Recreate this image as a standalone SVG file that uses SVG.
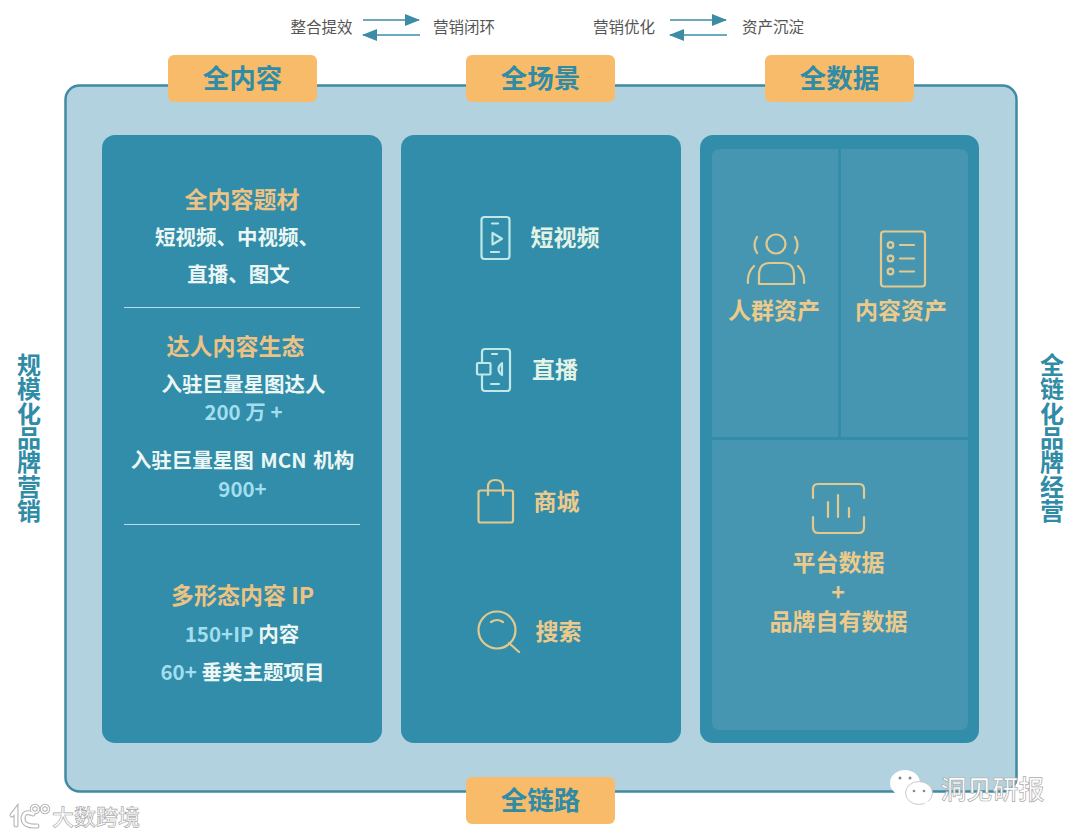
<svg xmlns="http://www.w3.org/2000/svg" width="1080" height="837" viewBox="0 0 1080 837">
<defs>
<marker id="arrow" markerUnits="userSpaceOnUse" markerWidth="15" markerHeight="12" refX="14" refY="6" orient="auto-start-reverse"><path d="M0 0L15 6L0 12Z" fill="#3d8ca6"/></marker>
</defs>
<style>
text{font-family:"Noto Sans CJK SC","Noto Sans",sans-serif;text-anchor:middle}
.tab{fill:#f7bb69}
.tabt{font-size:26.500px;font-weight:700;fill:#2f8ba6}
.panel{fill:#318da9}
.cell{fill:#4796b1}
.h{font-size:23px;font-weight:700;fill:#ecc384}
.w{font-size:20.500px;font-weight:700;fill:#ecf7f5}
.b{font-weight:700;fill:#a3deee}
.t{font-size:20.500px;font-weight:700;fill:#ecf7f5}
.g{font-size:23px;font-weight:700;fill:#ecca8b}
.w2{font-size:23px;font-weight:700;fill:#e2f3e6}
.side{font-size:24px;font-weight:700;fill:#2f8ba6;writing-mode:vertical-rl;text-anchor:start;letter-spacing:.3px}
.top{font-size:15.500px;fill:#555}
.wm{font-weight:500;fill:#fff;stroke:#aaa;stroke-width:.7}
.ic{fill:none;stroke-width:2.200;stroke-linecap:round;stroke-linejoin:round}
.icw{stroke:#bfe8e8}.icg{stroke:#e3c98e}
.rule{stroke:#bcdde5;stroke-width:1}
.flow{stroke:#3d8ca6;stroke-width:1.600;fill:none}
</style>
<g id="frame"><rect x="65.500" y="85.500" width="951" height="706" rx="14" fill="#b2d2df" stroke="#3f8ba3" stroke-width="2.500"/></g>

<g id="tab-content"><rect class="tab" x="168" y="55" width="149" height="47" rx="6"/><text class="tabt" x="242.500" y="88">全内容</text></g>
<g id="tab-scene"><rect class="tab" x="466" y="55" width="149" height="47" rx="6"/><text class="tabt" x="540.500" y="88">全场景</text></g>
<g id="tab-data"><rect class="tab" x="765" y="55" width="149" height="47" rx="6"/><text class="tabt" x="839.500" y="88">全数据</text></g>
<g id="tab-link"><rect class="tab" x="466" y="777" width="149" height="47" rx="6"/><text class="tabt" x="540.500" y="810">全链路</text></g>

<g id="top-left"><text class="top" x="321.500" y="33">整合提效</text><text class="top" x="464" y="33">营销闭环</text></g>
<g id="top-right"><text class="top" x="624" y="33">营销优化</text><text class="top" x="773" y="33">资产沉淀</text></g>
<g id="connectors">
<path class="flow" d="M363 20H419" marker-end="url(#arrow)"/>
<path class="flow" d="M420 35H363" marker-end="url(#arrow)"/>
<path class="flow" d="M670 20H726" marker-end="url(#arrow)"/>
<path class="flow" d="M727 35H670" marker-end="url(#arrow)"/>
</g>

<g id="panel-content">
<rect class="panel" x="102" y="135" width="280" height="608" rx="13"/>
<text class="h" x="242" y="208">全内容题材</text>
<text class="w" x="237" y="245">短视频、中视频、</text>
<text class="w" x="238.500" y="282">直播、图文</text>
<line class="rule" x1="124" y1="307.500" x2="360" y2="307.500"/>
<text class="h" x="235.500" y="355">达人内容生态</text>
<text class="w" x="243.500" y="392">入驻巨量星图达人</text>
<text class="b" x="243.500" y="420" style="font-size:20.500px">200 万 +</text>
<text class="w" x="242.500" y="468" word-spacing="2">入驻巨量星图 MCN 机构</text>
<text class="b" x="242.500" y="497" style="font-size:20.500px">900+</text>
<line class="rule" x1="124" y1="524.500" x2="360" y2="524.500"/>
<text class="h" x="242.500" y="604">多形态内容 IP</text>
<text class="t" x="242" y="642"><tspan class="b">150+IP </tspan>内容</text>
<text class="t" x="242.500" y="680"><tspan class="b">60+ </tspan>垂类主题项目</text>
</g>

<g id="panel-scene"><rect class="panel" x="401" y="135" width="280" height="608" rx="13"/></g>
<g id="scene-video">
<rect class="ic icw" x="481.500" y="217" width="28" height="42" rx="3"/>
<path class="ic icw" d="M492 223.500H498M491 252H499M492.500 233V244.500L502 238.700Z"/>
<text class="w2" x="565" y="246">短视频</text>
</g>
<g id="scene-live">
<path class="ic icw" d="M482 362V352Q482 349 485 349H507Q510 349 510 352V388Q510 391 507 391H485Q482 391 482 388V375"/>
<rect class="ic icw" x="477" y="363" width="13.500" height="11.500" rx="1"/>
<path class="ic icw" d="M492 354H497M491 384H499M502 363Q495 369 502 375Z"/>
<text class="w2" x="555" y="378">直播</text>
</g>
<g id="scene-shop">
<rect class="ic icg" x="478.500" y="490.500" width="34.500" height="32" rx="2"/>
<path class="ic icg" d="M488 495V487Q488 480 495.500 480Q503 480 503 487V495"/>
<text class="g" x="556.500" y="510">商城</text>
</g>
<g id="scene-search">
<circle class="ic icg" cx="497" cy="630" r="18.500"/>
<path class="ic icg" d="M509 643L519 652M491 622Q497 618 503 622"/>
<text class="g" x="558.500" y="640">搜索</text>
</g>

<g id="panel-data">
<rect class="panel" x="700" y="135" width="279" height="608" rx="13"/>
</g>
<g id="cell-people">
<path class="cell" d="M712 157Q712 149 720 149H838V437H712Z"/>
<circle class="ic icg" cx="776" cy="244" r="9.500"/>
<path class="ic icg" d="M759 284V275Q759 263 770 263H783Q794 263 794 275V284ZM757 237Q752 245 757 253M795 237Q800 245 795 253M748 283Q747 273 754 266M804 283Q805 273 798 266"/>
<text class="g" x="774" y="319">人群资产</text>
</g>
<g id="cell-assets">
<path class="cell" d="M841 149H960Q968 149 968 157V437H841Z"/>
<rect class="ic icg" x="881" y="231.500" width="44" height="55" rx="3"/>
<circle class="ic icg" cx="890.500" cy="245" r="2.800"/><circle class="ic icg" cx="890.500" cy="258.500" r="2.800"/><circle class="ic icg" cx="890.500" cy="271.500" r="2.800"/>
<path class="ic icg" d="M900 245H914M900 258.500H914M900 271.500H914"/>
<text class="g" x="901" y="319">内容资产</text>
</g>
<g id="cell-platform">
<path class="cell" d="M712 440H968V722Q968 730 960 730H720Q712 730 712 722Z"/>
<path class="ic icg" d="M813 498V489Q813 484 818 484H859Q864 484 864 489V498M813 517V527Q813 533 818 533H859Q864 533 864 527V517M828 502V517M838 495V517M849 508V517"/>
<text class="g"><tspan x="838.500" y="571">平台数据</tspan><tspan x="838" y="601">+</tspan><tspan x="838.500" y="630">品牌自有数据</tspan></text>
</g>

<g id="side-left"><text class="side" x="29" y="353">规模化品牌营销</text></g>
<g id="side-right"><text class="side" x="1052" y="353">全链化品牌经营</text></g>

<g id="watermark-left">
<g fill="none" stroke="#b5b5b5" stroke-width="5" stroke-linecap="round"><path d="M12 815L16 810V825M33 814Q24 810 23 818Q23 827 37 826"/><circle cx="35" cy="809" r="3.500" stroke-width="3.500"/><circle cx="45" cy="809" r="3.500" stroke-width="3.500"/></g>
<g fill="none" stroke="#fff" stroke-width="2.800" stroke-linecap="round"><path d="M12 815L16 810V825M33 814Q24 810 23 818Q23 827 37 826"/><circle cx="35" cy="809" r="3.500" stroke-width="1.500"/><circle cx="45" cy="809" r="3.500" stroke-width="1.500"/></g>
<text class="wm" x="96" y="825" style="font-size:22px">大数跨境</text>
</g>
<g id="watermark-right">
<ellipse cx="905" cy="783" rx="15" ry="13" fill="#fff"/>
<path d="M898 793L894 798L902 796Z" fill="#fff"/>
<ellipse cx="919" cy="793" rx="13.500" ry="11.500" fill="#fff" stroke="#bbb" stroke-width=".8"/>
<path d="M924 803L930 807L928 801Z" fill="#fff"/>
<circle cx="900" cy="778" r="1.500" fill="#888"/><circle cx="910" cy="778" r="1.500" fill="#888"/><circle cx="914" cy="791" r="1.300" fill="#888"/><circle cx="924" cy="791" r="1.300" fill="#888"/>
<text class="wm" x="992.500" y="799" style="font-size:26px">洞见研报</text>
</g>
</svg>
